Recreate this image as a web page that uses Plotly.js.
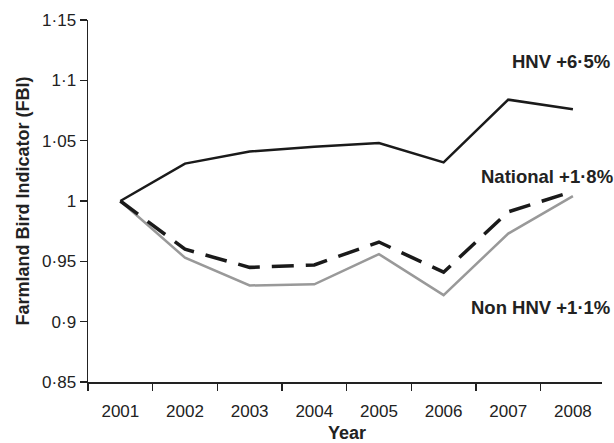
<!DOCTYPE html>
<html>
<head>
<meta charset="utf-8">
<script src="https://cdn.plot.ly/plotly-3.0.1.min.js"></script>
<style>html,body{margin:0;padding:0;background:#fff;}#chart{width:614px;height:443px;}</style>
</head>
<body>
<div id="chart"></div>
<script>
var years = [2001, 2002, 2003, 2004, 2005, 2006, 2007, 2008];
var yearLabels = ["2001","2002","2003","2004","2005","2006","2007","2008"];
var yearBoundaries = [2000.5, 2001.5, 2002.5, 2003.5, 2004.5, 2005.5, 2006.5, 2007.5];
var hnv = [1.000, 1.031, 1.041, 1.045, 1.048, 1.032, 1.084, 1.076];
var national = [1.000, 0.960, 0.945, 0.947, 0.966, 0.941, 0.991, 1.008];
var nonHnv = [1.000, 0.953, 0.930, 0.931, 0.956, 0.922, 0.973, 1.004];
var yTickVals = [0.85, 0.9, 0.95, 1, 1.05, 1.1, 1.15];
var yTickText = ["0·85", "0·9", "0·95", "1", "1·05", "1·1", "1·15"];
var seriesLabels = ["HNV +6·5%", "National +1·8%", "Non HNV +1·1%"];
var xTitle = "Year";
var yTitle = "Farmland Bird Indicator (FBI)";

var font = "Liberation Sans, Arial, sans-serif";
var traces = [
  {x: years, y: nonHnv, type: "scatter", mode: "lines", name: "Non HNV",
   line: {color: "#999999", width: 2.5}},
  {x: years, y: national, type: "scatter", mode: "lines", name: "National",
   line: {color: "#1a1a1a", width: 3.5, dash: "22px,12px"}},
  {x: years, y: hnv, type: "scatter", mode: "lines", name: "HNV",
   line: {color: "#1a1a1a", width: 2.5}}
];

var layout = {
  width: 614, height: 443,
  margin: {l: 88, r: 12, t: 20, b: 61},
  paper_bgcolor: "#fff", plot_bgcolor: "#fff",
  showlegend: false,
  font: {family: font, color: "#222", size: 17},
  xaxis: {
    range: [2000.5, 2008.45],
    tickvals: years, ticktext: yearLabels,
    ticks: "outside", ticklen: 0, ticklabelstandoff: 13,
    minor: {tickvals: yearBoundaries, ticks: "outside", ticklen: 7, tickwidth: 1.2, tickcolor: "#222", showgrid: false},
    showline: true, linecolor: "#222", linewidth: 1.5,
    showgrid: false, zeroline: false,
    tickfont: {size: 17}
  },
  yaxis: {
    range: [0.85, 1.15],
    tickvals: yTickVals, ticktext: yTickText,
    ticks: "outside", ticklen: 7, tickwidth: 1.2, tickcolor: "#222",
    showline: true, linecolor: "#222", linewidth: 1.5,
    showgrid: false, zeroline: false,
    tickfont: {size: 17},
    title: {text: "<b>" + yTitle + "</b>", font: {size: 18}, standoff: 8}
  },
  annotations: [
    {text: "<b>" + xTitle + "</b>", xref: "paper", yref: "paper", x: 0.503, y: 0, yshift: -51,
     xanchor: "center", yanchor: "middle", showarrow: false, font: {size: 18, color: "#222"}},
    {text: "<b>" + seriesLabels[0] + "</b>", xref: "paper", yref: "y", x: 1.02, y: 1.116,
     xanchor: "right", yanchor: "middle", showarrow: false, font: {size: 18.5, color: "#222"}},
    {text: "<b>" + seriesLabels[1] + "</b>", xref: "paper", yref: "y", x: 1.025, y: 1.020,
     xanchor: "right", yanchor: "middle", showarrow: false, font: {size: 18.5, color: "#222"}},
    {text: "<b>" + seriesLabels[2] + "</b>", xref: "paper", yref: "y", x: 1.02, y: 0.912,
     xanchor: "right", yanchor: "middle", showarrow: false, font: {size: 18.5, color: "#222"}}
  ]
};

Plotly.newPlot("chart", traces, layout, {staticPlot: true, displayModeBar: false});
</script>
</body>
</html>
